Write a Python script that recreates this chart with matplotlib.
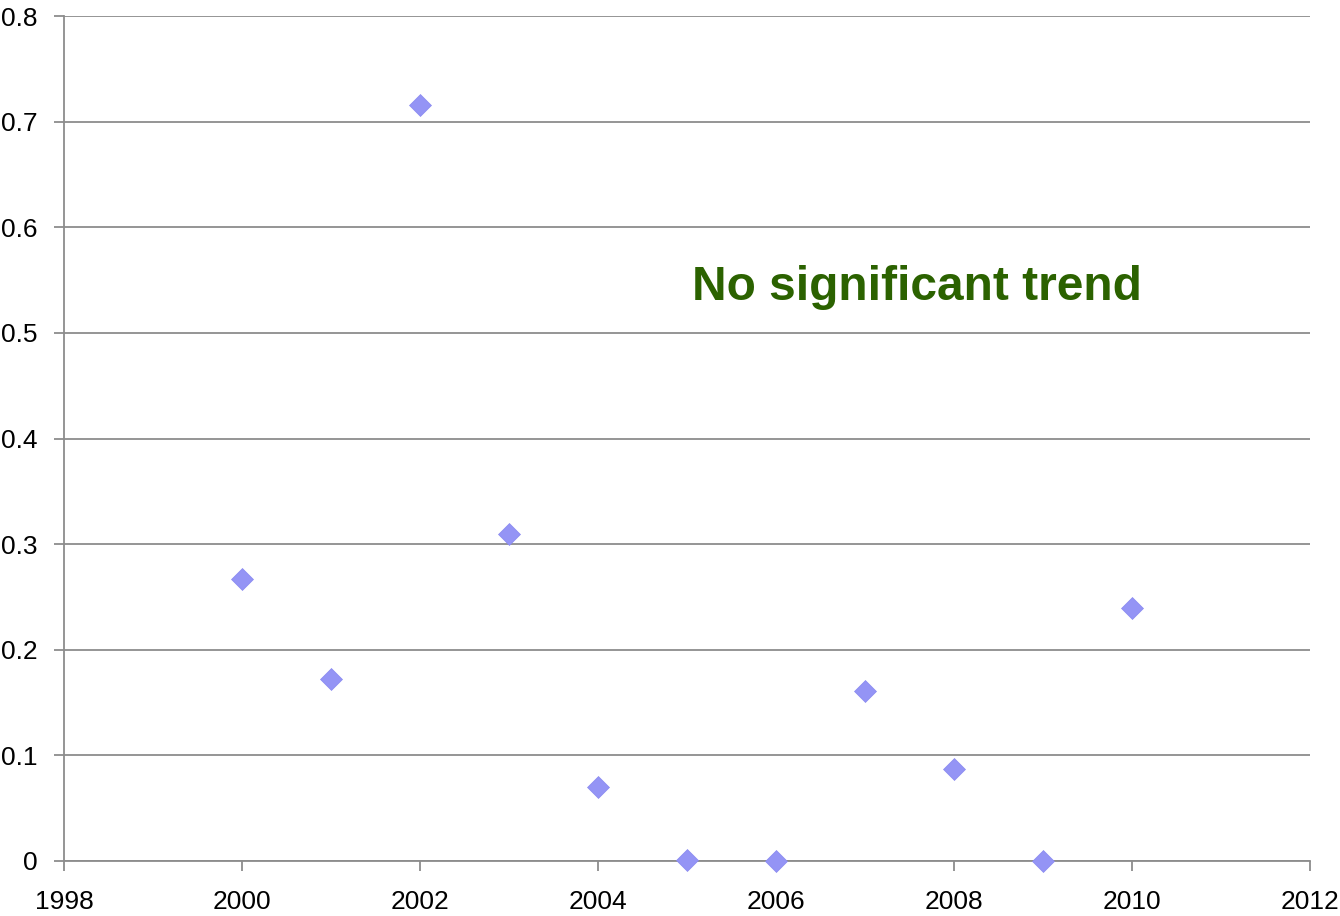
import matplotlib
matplotlib.use('Agg')
import matplotlib.pyplot as plt

plt.rcParams['font.family'] = ['Liberation Sans', 'DejaVu Sans']

years = [2000, 2001, 2002, 2003, 2004, 2005, 2006, 2007, 2008, 2009, 2010]
values = [0.267, 0.172, 0.716, 0.310, 0.070, 0.001, 0.0, 0.161, 0.087, 0.0, 0.240]
x_ticks = [1998, 2000, 2002, 2004, 2006, 2008, 2010, 2012]
y_ticks = [0, 0.1, 0.2, 0.3, 0.4, 0.5, 0.6, 0.7, 0.8]

axis_grey = '#8c8c8c'

fig = plt.figure(figsize=(13.4, 9.16), dpi=100)
ax = fig.add_axes([64/1340, 55/916, 1246/1340, 845/916])

ax.scatter(years, values, marker='D', s=125, color='#9494f5', edgecolors='#8a8af0',
           linewidths=0.5, zorder=3, clip_on=False)

ax.set_xlim(1998, 2012)
ax.set_ylim(0, 0.8)
ax.set_xticks(x_ticks)
ax.set_yticks(y_ticks)
ax.set_yticklabels(['0', '0.1', '0.2', '0.3', '0.4', '0.5', '0.6', '0.7', '0.8'])

ax.yaxis.grid(True, color=axis_grey, linewidth=1.3)
ax.set_axisbelow(True)

for key, spine in ax.spines.items():
    spine.set_visible(False)
ax.spines['left'].set_visible(True)
ax.spines['bottom'].set_visible(True)
ax.spines['left'].set_color(axis_grey)
ax.spines['bottom'].set_color(axis_grey)
ax.spines['left'].set_linewidth(1.3)
ax.spines['bottom'].set_linewidth(1.3)

ax.tick_params(axis='both', colors=axis_grey, labelcolor='black', labelsize=19,
               length=7, width=1.3, direction='out')
ax.tick_params(axis='x', pad=14)
ax.tick_params(axis='y', pad=12)

ax.text(2007.58, 0.543, 'No significant trend', color='#2b6200', fontsize=34.5,
        fontweight='bold', ha='center', va='center')

fig.savefig('out.png', dpi=100)
